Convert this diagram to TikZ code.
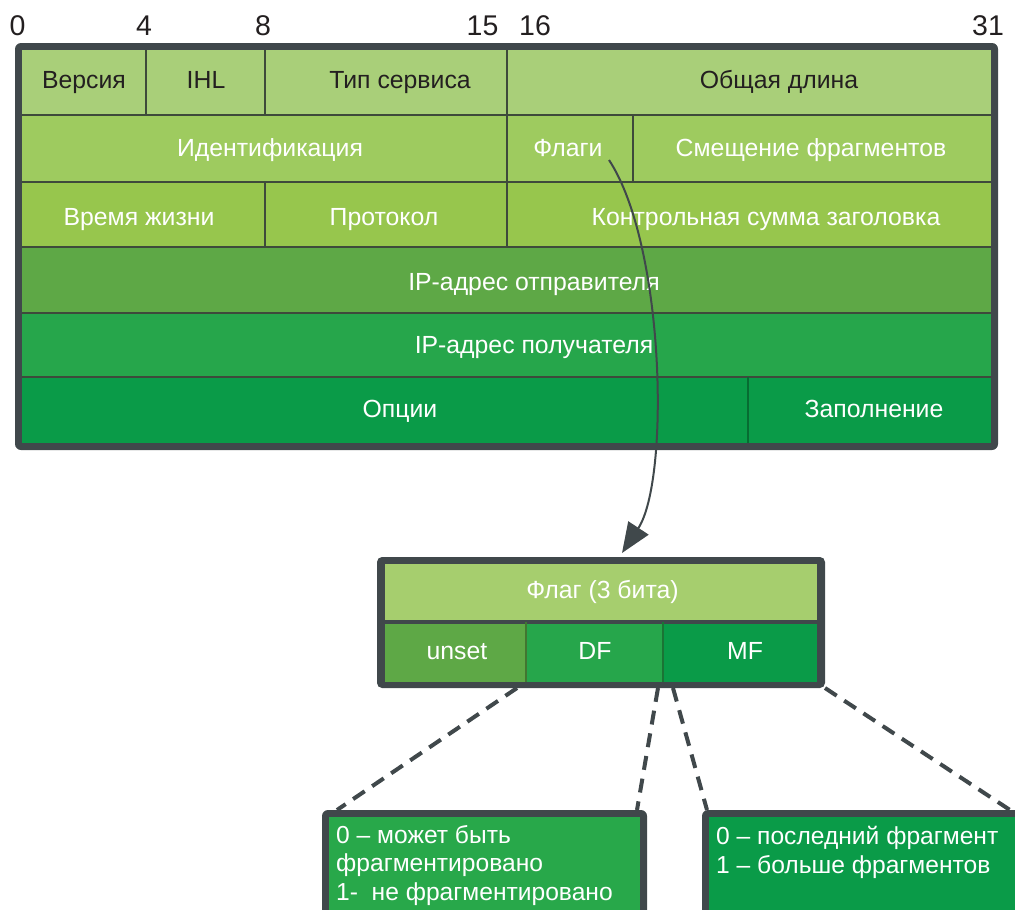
\documentclass[tikz,border=0pt]{standalone}
\usepackage{fontspec}
\setmainfont{Liberation Sans}
\usetikzlibrary{arrows.meta,backgrounds}
\definecolor{rowA}{HTML}{A9CF79}
\definecolor{rowB}{HTML}{9ECB5F}
\definecolor{rowC}{HTML}{97C64D}
\definecolor{rowD}{HTML}{5EA846}
\definecolor{rowE}{HTML}{26A64B}
\definecolor{rowF}{HTML}{0A9B48}
\definecolor{flagA}{HTML}{A6CE6E}
\definecolor{lfill}{HTML}{28A84A}
\definecolor{bord}{HTML}{40484B}
\definecolor{gridc}{HTML}{3E4A3B}
\definecolor{txtdark}{HTML}{231F20}
\begin{document}
\begin{tikzpicture}[x=1pt,y=-1pt,
  cell/.style={anchor=north west, inner sep=0pt, outer sep=0pt, draw=none},
  lab/.style={anchor=base, inner sep=0pt, font=\fontsize{24.8}{28}\selectfont, text=white},
  dlab/.style={lab, text=txtdark},
  blab/.style={anchor=base west, inner sep=0pt, font=\fontsize{24.6}{28}\selectfont, text=white},
  num/.style={anchor=base, inner sep=0pt, font=\fontsize{28.5}{32}\selectfont, text=txtdark},
  gridln/.style={draw=gridc, line width=2.8pt},
  frame/.style={fill=bord, rounded corners=6pt, anchor=north west, inner sep=0pt, outer sep=0pt},
  dashc/.style={draw=bord, line width=4pt, dash pattern=on 14pt off 9pt},
  arr/.style={draw=bord, line width=2pt, -{Triangle[width=24pt,length=30pt]}}
]
\useasboundingbox (0,0) rectangle (1015,910);
\clip (0,0) rectangle (1015,910);

% bit numbers
\node[num] (n0) at (17.5,35) {0};
\node[num] (n4) at (144,35) {4};
\node[num] (n8) at (263,35) {8};
\node[num] (n15) at (482.5,35) {15};
\node[num] (n16) at (535,35) {16};
\node[num] (n31) at (988,35) {31};

% header frame
\node[frame, minimum width=983, minimum height=407] (main) at (15,43) {};
% row 1
\node[cell, fill=rowA, minimum width=124, minimum height=65] (ver) at (22,50) {};
\node[cell, fill=rowA, minimum width=119, minimum height=65] (ihl) at (146,50) {};
\node[cell, fill=rowA, minimum width=242, minimum height=65] (tos) at (265,50) {};
\node[cell, fill=rowA, minimum width=484, minimum height=65] (len) at (507,50) {};
% row 2
\node[cell, fill=rowB, minimum width=485, minimum height=67] (ident) at (22,115) {};
\node[cell, fill=rowB, minimum width=126, minimum height=67] (flags) at (507,115) {};
\node[cell, fill=rowB, minimum width=358, minimum height=67] (frag) at (633,115) {};
% row 3
\node[cell, fill=rowC, minimum width=243, minimum height=65] (ttl) at (22,182) {};
\node[cell, fill=rowC, minimum width=242, minimum height=65] (proto) at (265,182) {};
\node[cell, fill=rowC, minimum width=484, minimum height=65] (csum) at (507,182) {};
% row 4-5
\node[cell, fill=rowD, minimum width=969, minimum height=66] (src) at (22,247) {};
\node[cell, fill=rowE, minimum width=969, minimum height=64] (dst) at (22,313) {};
% row 6
\node[cell, fill=rowF, minimum width=726, minimum height=66] (opt) at (22,377) {};
\node[cell, fill=rowF, minimum width=243, minimum height=66] (pad) at (748,377) {};

% grid lines
\draw[gridln] (ver.south west) -- (len.south east);
\draw[gridln] (ident.south west) -- (frag.south east);
\draw[gridln] (ttl.south west) -- (csum.south east);
\draw[gridln] (src.south west) -- (src.south east);
\draw[gridln] (dst.south west) -- (dst.south east);
\draw[gridln, line width=2pt] (ver.north east) -- (ver.south east);
\draw[gridln, line width=2pt] (ihl.north east) -- (ihl.south east);
\draw[gridln, line width=2pt] (tos.north east) -- (tos.south east);
\draw[gridln, line width=2pt] (ident.north east) -- (ident.south east);
\draw[gridln, line width=2pt] (flags.north east) -- (flags.south east);
\draw[gridln, line width=2pt] (ttl.north east) -- (ttl.south east);
\draw[gridln, line width=2pt] (proto.north east) -- (proto.south east);
\draw[gridln, line width=2pt, draw=rowF!70!black] (opt.north east) -- (opt.south east);

% labels
\node[dlab] (tver) at (84,88) {Версия};
\node[dlab] (tihl) at (206,88) {IHL};
\node[dlab] (ttos) at (400,88) {Тип сервиса};
\node[dlab] (tlen) at (779,88) {Общая длина};
\node[lab] (tident) at (270,156) {Идентификация};
\node[lab] (tflags) at (568,156) {Флаги};
\node[lab] (tfrag) at (811,156) {Смещение фрагментов};
\node[lab] (tttl) at (139,225) {Время жизни};
\node[lab] (tproto) at (384,225) {Протокол};
\node[lab] (tcsum) at (766,225) {Контрольная сумма заголовка};
\node[lab] (tsrc) at (534,290) {IP-адрес отправителя};
\node[lab] (tdst) at (534,353) {IP-адрес получателя};
\node[lab] (topt) at (400,417) {Опции};
\node[lab] (tpad) at (874,417) {Заполнение};

% flag box
\node[frame, rounded corners=5pt, minimum width=448, minimum height=131] (fbox) at (377,557) {};
\node[cell, fill=flagA, minimum width=432, minimum height=58] (fhead) at (385,564) {};
\node[cell, fill=rowD, minimum width=141, minimum height=60] (unset) at (385,622) {};
\node[cell, fill=rowE, minimum width=137, minimum height=60] (df) at (526,622) {};
\node[cell, fill=rowF, minimum width=154, minimum height=60] (mf) at (663,622) {};
\draw[gridln, line width=4pt, draw=bord] (fhead.south west) -- (fhead.south east);
\draw[gridln, line width=1.5pt, draw=rowD!70!black] (unset.north east) -- (unset.south east);
\draw[gridln, line width=1.5pt, draw=rowE!70!black] (df.north east) -- (df.south east);
\node[lab] (tfhead) at (602.5,598) {Флаг (3 бита)};
\node[lab] (tunset) at (457,659) {unset};
\node[lab] (tdf) at (595,659) {DF};
\node[lab] (tmf) at (745,659) {MF};

% lower boxes
\node[frame, minimum width=325, minimum height=130] (lbox) at (322,810) {};
\node[cell, fill=lfill, minimum width=311, minimum height=110] (linner) at (329,817) {};
\node[frame, minimum width=330, minimum height=130] (rbox) at (702,810) {};
\node[cell, fill=rowF, minimum width=330, minimum height=110] (rinner) at (709,817) {};
\node[blab] (l1) at (336,843) {0 – может быть};
\node[blab] (l2) at (336,871.5) {фрагментировано};
\node[blab] (l3) at (336,900) {1-~~не фрагментировано};
\node[blab] (r1) at (716,844) {0 – последний фрагмент};
\node[blab] (r2) at (716,873) {1 – больше фрагментов};

% dashed connectors
\begin{scope}[on background layer]
\draw[dashc] ([xshift=-9pt,yshift=-6pt]unset.south east) -- ([xshift=15pt]lbox.north west);
\draw[dashc] ([xshift=-5pt,yshift=-6pt]df.south east) -- ([xshift=-10pt]lbox.north east);
\draw[dashc] ([xshift=10pt,yshift=-6pt]df.south east) -- ([xshift=5pt]rbox.north west);
\draw[dashc] (fbox.south east) -- ([xshift=-22pt]rbox.north east);
\end{scope}

% curved arrow from Flags to flag box
\coordinate (fstart) at (609,160);
\coordinate (ftip) at (622,553);
\draw[arr] (fstart) .. controls (665,245) and (670,480) .. (ftip);
\end{tikzpicture}
\end{document}
